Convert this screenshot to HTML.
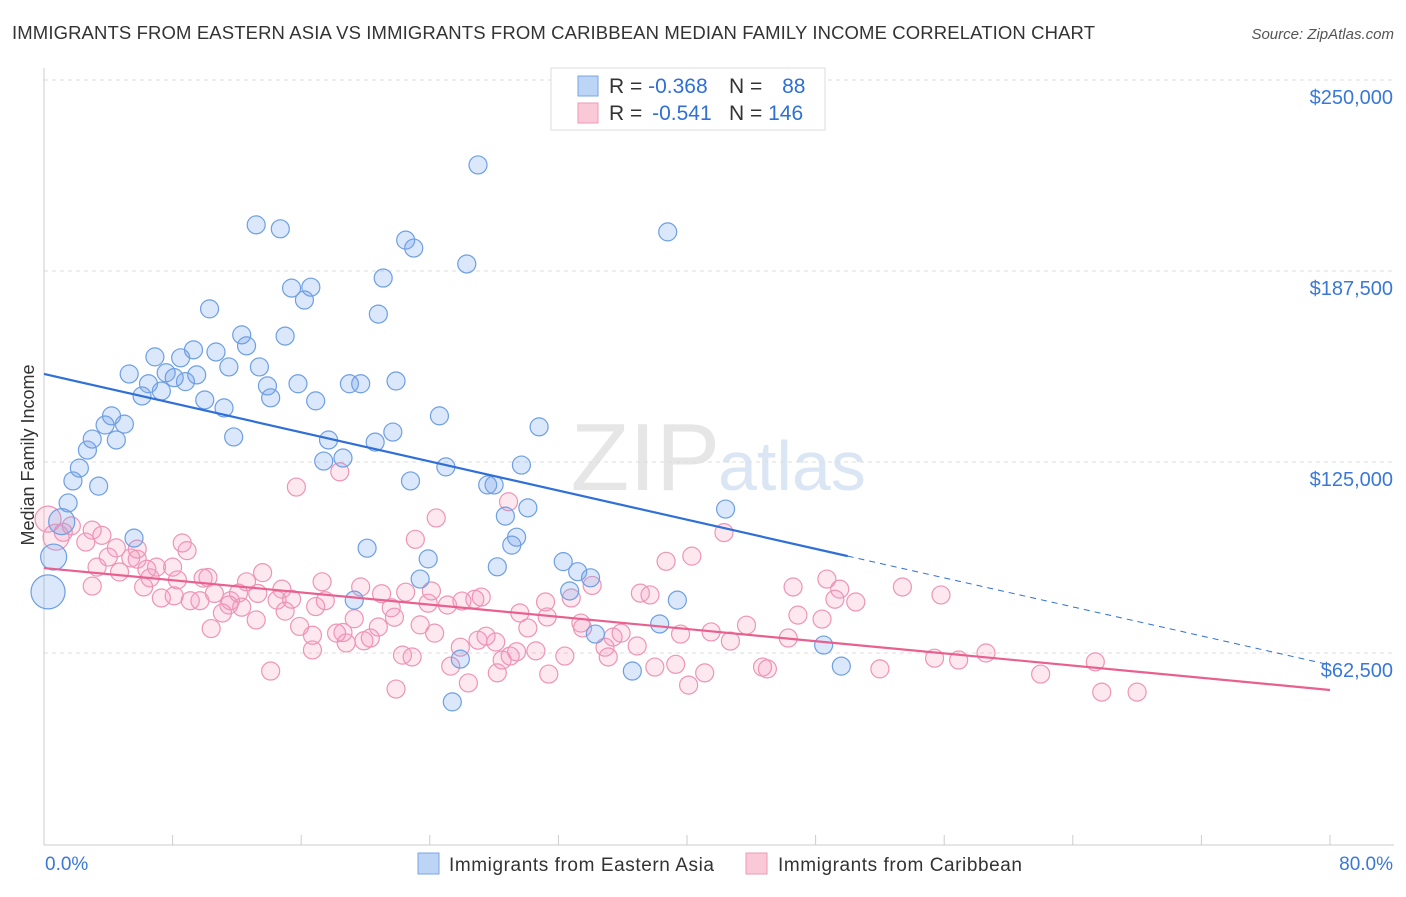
<!DOCTYPE html>
<html><head><meta charset="utf-8"><style>
body{margin:0;background:#fff;font-family:"Liberation Sans",sans-serif}
svg text{font-family:"Liberation Sans",sans-serif}
</style></head><body>
<svg id="c" width="1406" height="892">
<text x="12" y="39" font-size="18.5" textLength="1083" fill="#333">IMMIGRANTS FROM EASTERN ASIA VS IMMIGRANTS FROM CARIBBEAN MEDIAN FAMILY INCOME CORRELATION CHART</text>
<text x="1394" y="39" font-size="15" fill="#555" font-style="italic" text-anchor="end">Source: ZipAtlas.com</text>
<text x="720" y="490" font-size="96" fill="#e6e6e6" text-anchor="end" font-family="Liberation Serif">ZIP</text>
<text x="718" y="490" font-size="70" fill="#dbe6f5">atlas</text>
<text transform="translate(34,455) rotate(-90)" font-size="18" fill="#333" text-anchor="middle">Median Family Income</text>
<g id="grid"></g><g id="pts"></g><g id="lines"></g>
<g>
<rect x="551" y="68" width="274" height="62" fill="#fff" stroke="#ddd"/>
<rect x="578" y="76" width="20" height="20" fill="#bcd4f5" stroke="#7aa6e6"/>
<rect x="578" y="103" width="20" height="20" fill="#f9c9d8" stroke="#ee99b6"/>
<text x="609" y="93" font-size="21" fill="#333">R = <tspan fill="#2f6fd6">-0.368</tspan></text>
<text x="729" y="93" font-size="21" fill="#333">N = <tspan fill="#2f6fd6" dx="14">88</tspan></text>
<text x="609" y="120" font-size="21" fill="#333">R = <tspan fill="#2f6fd6" dx="4">-0.541</tspan></text>
<text x="729" y="120" font-size="21" fill="#333">N = <tspan fill="#2f6fd6">146</tspan></text>
</g>
<g>
<rect x="418" y="853" width="21" height="21" fill="#bcd4f5" stroke="#7aa6e6"/>
<text x="449" y="871" font-size="19" textLength="265" fill="#333">Immigrants from Eastern Asia</text>
<rect x="746" y="853" width="21" height="21" fill="#f9c9d8" stroke="#ee99b6"/>
<text x="778" y="871" font-size="19" textLength="244" fill="#333">Immigrants from Caribbean</text>
</g>
</svg>
<script>
const yTicks=[62.5,125,187.5,250];
const yTickLabels=["$62,500","$125,000","$187,500","$250,000"];
const xTickLabels=["0.0%","80.0%"];
const blueX=[27.0,13.2,14.7,38.8,22.5,23.0,26.3,21.1,15.4,16.6,16.2,10.3,20.8,15.0,12.3,12.6,9.3,10.7,6.9,8.5,11.5,13.4,5.3,7.6,9.5,8.1,8.8,6.5,21.9,15.8,13.9,19.0,19.7,6.1,7.3,10.0,14.1,16.9,11.2,4.2,24.6,5.0,3.8,30.8,21.7,3.0,4.5,11.8,17.7,20.6,2.7,17.4,18.6,29.7,25.0,2.2,1.8,3.4,22.8,27.6,28.0,1.5,30.1,28.7,42.4,1.1,5.6,29.4,29.1,20.1,0.6,23.9,32.3,28.2,33.2,34.0,23.4,32.7,0.25,39.4,19.3,38.3,34.3,48.5,25.9,36.6,49.6,25.4];
const blueY=[222.2,202.6,201.3,200.3,197.6,195.0,189.8,185.2,181.9,182.2,178.0,175.1,173.4,166.2,166.6,163.0,161.7,161.0,159.4,159.1,156.1,156.1,153.8,154.2,153.5,152.6,151.3,150.6,151.5,150.6,149.9,150.6,150.6,146.6,148.2,145.3,146.0,145.0,142.7,140.1,140.1,137.4,137.1,136.5,134.8,132.5,132.2,133.2,132.2,131.5,128.9,125.3,126.3,124.0,123.4,123.0,118.8,117.1,118.8,117.5,117.5,111.6,110.0,107.3,109.6,105.5,100.1,100.4,97.8,96.8,93.9,93.3,92.4,90.7,89.1,87.1,86.7,82.8,82.5,79.8,79.8,72.0,68.7,65.1,60.5,56.6,58.2,46.5];
const blueBig=[65,70,78];
const pinkX=[24.4,28.9,15.7,18.4,42.3,23.1,0.25,0.75,1.7,1.2,3.0,2.6,3.6,4.5,5.8,5.8,4.0,3.3,4.7,5.4,6.4,7.0,8.0,8.6,6.6,3.0,6.2,8.3,9.9,10.2,8.1,7.3,9.1,9.7,10.6,11.6,12.6,13.6,13.3,12.1,11.5,12.3,13.2,11.1,10.4,14.8,15.4,14.5,14.1,15.9,15.0,16.7,16.7,17.3,17.5,16.9,18.6,18.2,19.3,18.8,19.9,20.3,19.7,21.0,21.6,20.8,21.8,22.5,21.9,22.3,22.9,23.4,24.1,23.9,24.3,25.1,25.3,26.4,25.9,26.0,26.8,27.2,27.0,28.1,27.5,28.2,28.5,29.0,29.4,29.6,30.1,30.6,31.2,31.3,31.4,32.4,32.8,33.4,33.5,34.1,34.9,35.1,35.4,35.9,36.9,37.1,37.7,38.0,38.7,39.3,39.6,40.1,40.3,41.1,41.5,42.7,43.7,44.7,45.0,46.3,46.6,46.9,48.4,48.7,49.2,49.5,50.5,52.0,53.4,55.4,55.8,56.9,58.6,62.0,65.4,65.8,68.0,8.9];
const pinkY=[106.7,112.0,116.8,121.8,101.9,99.7,106.3,100.4,104.1,102.0,102.7,98.8,101.0,96.9,96.5,93.2,93.9,90.6,89.0,93.6,89.9,90.6,90.6,98.5,87.1,84.4,84.1,86.4,87.0,87.2,81.2,80.5,79.6,79.6,82.0,79.6,85.8,88.8,82.0,82.1,78.2,77.5,73.3,75.6,70.5,83.4,80.1,79.8,56.6,71.2,76.2,68.3,63.5,85.8,79.6,77.7,69.2,69.0,73.7,65.8,66.5,67.4,84.1,81.9,77.3,71.0,74.2,82.4,50.7,61.8,61.2,71.7,82.8,78.8,69.0,78.2,58.2,52.7,64.4,79.5,80.1,80.8,66.7,66.1,68.0,56.0,60.2,61.5,62.9,75.6,70.7,63.2,79.2,74.3,55.6,61.5,80.5,72.3,70.7,84.6,64.4,61.2,67.7,69.0,64.8,82.1,81.5,57.9,92.5,58.8,68.7,52.0,94.2,56.0,69.4,66.4,71.6,57.9,57.3,67.4,84.1,74.9,73.6,86.7,80.1,83.4,79.2,57.3,84.1,60.8,81.5,60.2,62.5,55.6,59.6,49.7,49.7,96.0];
const pinkBig=[6,7];
const blueTrend=[[0,153.8],[50,94.2],[80,58.6]];
const pinkTrend=[[0,90.3],[80,50.4]];

const NS="http://www.w3.org/2000/svg";
const X=v=>44+v*16.075, Y=k=>80+(250-k)*3.056;
function mk(t,a,p){const e=document.createElementNS(NS,t);for(const k in a)e.setAttribute(k,a[k]);p.appendChild(e);return e;}
const grid=document.getElementById('grid');
yTicks.forEach((t,i)=>{
  const l=mk('line',{x1:44,x2:1394,y1:Y(t),y2:Y(t),stroke:'#ddd','stroke-dasharray':'4,4'},grid);
  
  
  const tx=mk('text',{x:1393,y:Y(t)+24,'font-size':20,fill:'#3a78d8','text-anchor':'end'},grid);
  tx.textContent=yTickLabels[i];
  
  
});
const ax=mk('line',{x1:44,x2:1394,y1:845,y2:845,stroke:'#ccc'},grid);


const yax=mk('line',{x1:44,x2:44,y1:68,y2:845,stroke:'#ccc'},grid);


for(let i=0;i<=10;i++){const t=mk('line',{x1:X(i*8),x2:X(i*8),y1:835,y2:845,stroke:'#ccc'},grid);
  
  }
[[0,X(0)+1,'start'],[1,1393,'end']].forEach(([i,x,a])=>{const t=mk('text',{x:x,y:870,'font-size':19,fill:'#3a78d8','text-anchor':a},grid);t.textContent=xTickLabels[i];
  
  });
const pts=document.getElementById('pts');
pinkX.forEach((x,i)=>{const c=mk('circle',{cx:X(x),cy:Y(pinkY[i]),r:pinkBig.includes(i)?13:9,fill:'rgba(244,150,185,0.22)',stroke:'#ee94b5','stroke-width':1.2},pts);
  
  });
blueX.forEach((x,i)=>{const c=mk('circle',{cx:X(x),cy:Y(blueY[i]),r:i===78?17:(blueBig.includes(i)?13:9),fill:'rgba(110,160,235,0.25)',stroke:'#6d9fe3','stroke-width':1.2},pts);
  
  });
const lines=document.getElementById('lines');
const b1=mk('line',{x1:X(blueTrend[0][0]),y1:Y(blueTrend[0][1]),x2:X(blueTrend[1][0]),y2:Y(blueTrend[1][1]),stroke:'#2f6fd6','stroke-width':2.2},lines);


const b2=mk('line',{x1:X(blueTrend[1][0]),y1:Y(blueTrend[1][1]),x2:X(blueTrend[2][0]),y2:Y(blueTrend[2][1]),stroke:'#2f6fd6','stroke-width':1,'stroke-dasharray':'6,5'},lines);


const p1=mk('line',{x1:X(pinkTrend[0][0]),y1:Y(pinkTrend[0][1]),x2:X(pinkTrend[1][0]),y2:Y(pinkTrend[1][1]),stroke:'#e8608f','stroke-width':2.2},lines);


</script>
</body></html>
